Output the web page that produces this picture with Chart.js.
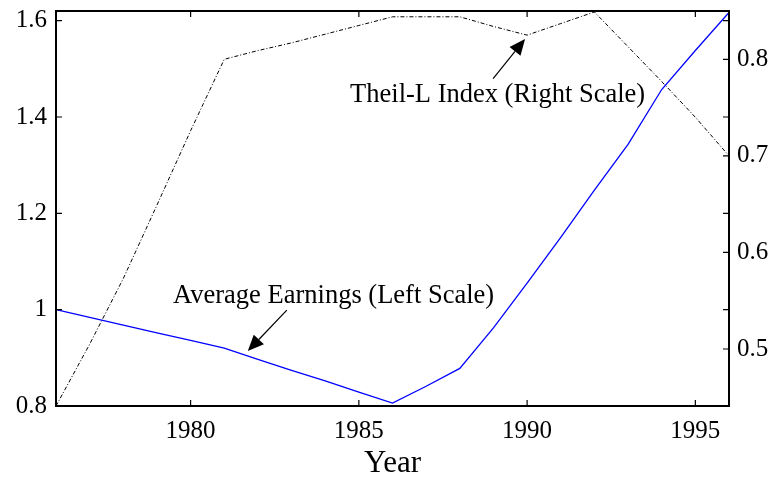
<!DOCTYPE html>
<html>
<head>
<meta charset="utf-8">
<script src="https://cdn.jsdelivr.net/npm/chart.js@4/dist/chart.umd.min.js"></script>
<style>
  html, body { margin: 0; padding: 0; background: #fff; }
  canvas { display: block; }
</style>
</head>
<body>
<canvas id="chart" width="777" height="482"></canvas>
<script>
const years = [1976, 1977, 1978, 1979, 1980, 1981, 1982, 1983, 1984, 1985, 1986,
  1987, 1988, 1989, 1990, 1991, 1992, 1993, 1994, 1995, 1996];
const earnings = [1.000, 0.984, 0.968, 0.952, 0.936, 0.920, 0.897, 0.874, 0.852, 0.829, 0.806,
  0.841, 0.878, 0.962, 1.055, 1.150, 1.248, 1.343, 1.457, 1.538, 1.617];
const theil = [0.441, 0.505, 0.573, 0.649, 0.726, 0.800, 0.809, 0.817, 0.826, 0.835, 0.844,
  0.844, 0.844, 0.834, 0.825, 0.837, 0.849, 0.813, 0.777, 0.740, 0.700];

const xTicks = [1980, 1985, 1990, 1995];
const leftTicks = [0.8, 1.0, 1.2, 1.4, 1.6];
const rightTicks = [0.5, 0.6, 0.7, 0.8];

// annotations, in data units: text anchor, arrow tail, arrow tip
const earnNote = { text: 'Average Earnings (Left Scale)', axis: 'y', at: [1979.48, 1.0145], from: [1982.86, 0.999], to: [1981.7, 0.914] };
const theilNote = { text: 'Theil-L Index (Right Scale)', axis: 'y1', at: [1984.74, 0.756], from: [1988.99, 0.78], to: [1989.94, 0.821] };

const FONT = "'Liberation Serif', 'Times New Roman', serif";

const framePlugin = {
  id: 'frame',
  afterDatasetsDraw(chart) {
    const { ctx, chartArea: a, scales } = chart;
    const tl = 6;
    ctx.save();
    ctx.strokeStyle = '#000';
    ctx.lineWidth = 1.2;
    ctx.beginPath();
    scales.x.ticks.forEach(t => {
      const px = scales.x.getPixelForValue(t.value);
      ctx.moveTo(px, a.bottom); ctx.lineTo(px, a.bottom - tl);
      ctx.moveTo(px, a.top); ctx.lineTo(px, a.top + tl);
    });
    scales.y.ticks.forEach(t => {
      const py = scales.y.getPixelForValue(t.value);
      ctx.moveTo(a.left, py); ctx.lineTo(a.left + tl, py);
      ctx.moveTo(a.right, py); ctx.lineTo(a.right - tl, py);
    });
    scales.y1.ticks.forEach(t => {
      const py = scales.y1.getPixelForValue(t.value);
      ctx.moveTo(a.right, py); ctx.lineTo(a.right - tl, py);
    });
    ctx.stroke();
    ctx.lineWidth = 2;
    ctx.strokeRect(a.left, a.top, a.right - a.left, a.bottom - a.top);

    // annotations
    [earnNote, theilNote].forEach(n => {
      const ys = scales[n.axis];
      const tx = scales.x.getPixelForValue(n.at[0]), ty = ys.getPixelForValue(n.at[1]);
      ctx.fillStyle = '#000';
      ctx.font = '26.5px ' + FONT;
      ctx.textAlign = 'left';
      ctx.textBaseline = 'alphabetic';
      ctx.fillText(n.text, tx, ty);
      const x0 = scales.x.getPixelForValue(n.from[0]), y0 = ys.getPixelForValue(n.from[1]);
      const x1 = scales.x.getPixelForValue(n.to[0]), y1 = ys.getPixelForValue(n.to[1]);
      const ang = Math.atan2(y1 - y0, x1 - x0);
      const hl = 16, hw = 7;
      const bx = x1 - hl * Math.cos(ang), by = y1 - hl * Math.sin(ang);
      ctx.lineWidth = 1.2;
      ctx.beginPath();
      ctx.moveTo(x0, y0); ctx.lineTo(bx, by);
      ctx.stroke();
      ctx.beginPath();
      ctx.moveTo(x1, y1);
      ctx.lineTo(bx + hw * Math.sin(ang), by - hw * Math.cos(ang));
      ctx.lineTo(bx - hw * Math.sin(ang), by + hw * Math.cos(ang));
      ctx.closePath();
      ctx.fill();
    });
    ctx.restore();
  }
};

const noPad = scale => { scale.paddingTop = 0; scale.paddingBottom = 0; scale.paddingLeft = 0; scale.paddingRight = 0; };

new Chart(document.getElementById('chart').getContext('2d'), {
  type: 'line',
  data: {
    datasets: [
      {
        label: 'Average Earnings',
        data: years.map((y, i) => ({ x: y, y: earnings[i] })),
        yAxisID: 'y',
        borderColor: '#0000ff',
        borderWidth: 1.3,
        pointRadius: 0,
        tension: 0,
      },
      {
        label: 'Theil-L Index',
        data: years.map((y, i) => ({ x: y, y: theil[i] })),
        yAxisID: 'y1',
        borderColor: '#000',
        borderWidth: 1,
        borderDash: [4, 2, 1, 2],
        pointRadius: 0,
        tension: 0,
      },
    ],
  },
  options: {
    responsive: false,
    animation: false,
    devicePixelRatio: 1,
    layout: { padding: { top: 11, left: 0, right: 0, bottom: 0 } },
    plugins: { legend: { display: false }, tooltip: { enabled: false } },
    scales: {
      x: {
        type: 'linear',
        min: 1976,
        max: 1996,
        afterBuildTicks: s => { s.ticks = xTicks.map(v => ({ value: v })); },
        afterFit: s => { s.height = 76; noPad(s); },
        grid: { display: false, drawTicks: false },
        border: { display: false },
        ticks: { color: '#000', font: { family: FONT, size: 25 }, padding: 10, callback: v => String(v), maxRotation: 0 },
        title: { display: true, text: 'Year', color: '#000', font: { family: FONT, size: 31 }, padding: { top: 0, bottom: 0 } },
      },
      y: {
        position: 'left',
        min: 0.8,
        max: 1.62,
        afterBuildTicks: s => { s.ticks = leftTicks.map(v => ({ value: v })); },
        afterFit: s => { s.width = 56; noPad(s); },
        grid: { display: false, drawTicks: false },
        border: { display: false },
        ticks: { color: '#000', font: { family: FONT, size: 25 }, padding: 9, callback: v => String(v) },
      },
      y1: {
        position: 'right',
        min: 0.441,
        max: 0.85,
        afterBuildTicks: s => { s.ticks = rightTicks.map(v => ({ value: v })); },
        afterFit: s => { s.width = 48; noPad(s); },
        grid: { display: false, drawTicks: false },
        border: { display: false },
        ticks: { color: '#000', font: { family: FONT, size: 25 }, padding: 8, callback: v => String(v) },
      },
    },
  },
  plugins: [framePlugin],
});
</script>
</body>
</html>
